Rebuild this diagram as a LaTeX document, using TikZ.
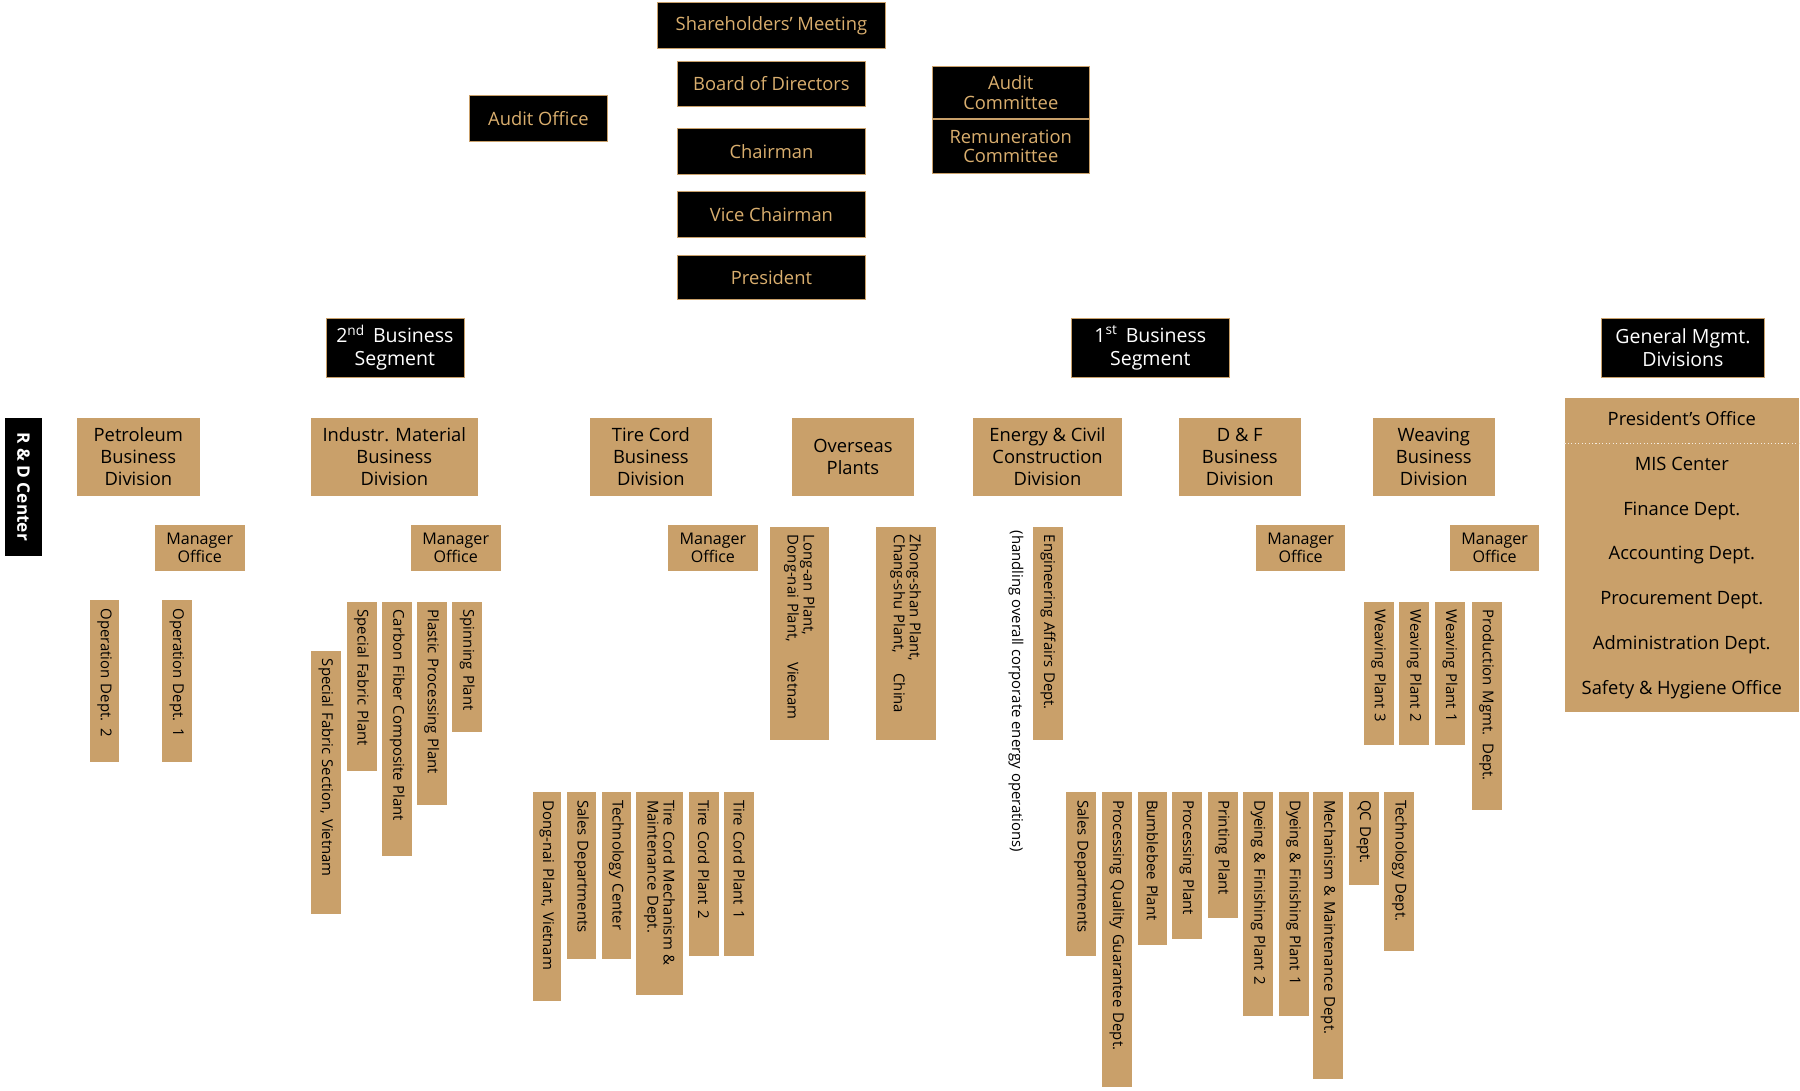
\documentclass[tikz,border=0pt]{standalone}
\usepackage{fontspec}
\setmainfont{Open Sans}
\usetikzlibrary{backgrounds}
\definecolor{tan}{HTML}{C9A06A}
\definecolor{gold}{HTML}{D9AE6E}
\tikzset{
 top/.style={draw=tan,fill=black,text=gold,inner sep=0pt,font=\fontsize{16}{17}\selectfont,align=center},
 seg/.style={draw=tan,fill=black,text=white,inner sep=0pt,font=\fontsize{17}{20}\selectfont,align=center},
 div/.style={fill=tan,text=black,inner sep=0pt,font=\fontsize{16}{19}\selectfont,align=center,minimum width=106pt,minimum height=68pt},
 mgr/.style={fill=tan,text=black,inner sep=0pt,font=\fontsize{14}{16}\selectfont,align=center,minimum width=78pt,minimum height=40pt},
 vert/.style={fill=tan,text=black,rotate=-90,inner xsep=7pt,inner ysep=0pt,font=\fontsize{13}{14}\selectfont,align=left},
 ln/.style={draw=tan,line width=1.5pt}
}
\newcommand\vbx[6]{%
 \pgfmathsetmacro\vlen{#4-#3}\pgfmathsetmacro\vcy{(#3+#4)/2}\pgfmathsetmacro\vtw{#4-#3-14}%
 \node[vert,minimum width=\vlen pt,text width=\vtw pt,minimum height=#6pt] (#1) at (#2,\vcy) {#5};}
\begin{document}
\begin{tikzpicture}[x=1pt,y=-1pt]
\useasboundingbox[fill=white] (0,0) rectangle (1568,950);
% top
\node[top,minimum width=199pt,minimum height=40pt] (sh) at (672,22) {Shareholders' Meeting};
\node[top,minimum width=164pt,minimum height=39pt] (bd) at (672,73) {Board of Directors};
\node[top,minimum width=120pt,minimum height=40pt] (ao) at (469,103) {Audit Office};
\node[top,minimum width=137pt,minimum height=45pt] (ac) at (880.5,80.5) {Audit\\Committee};
\node[top,minimum width=137pt,minimum height=47pt] (rc) at (880.5,127.5) {Remuneration\\Committee};
\node[top,minimum width=164pt,minimum height=40pt] (ch) at (672,132) {Chairman};
\node[top,minimum width=164pt,minimum height=40pt] (vc) at (672,187) {Vice Chairman};
\node[top,minimum width=164pt,minimum height=39pt] (pr) at (672,241.5) {President};
% segments
\node[seg,minimum width=120pt,minimum height=52pt] (s2) at (344,303) {2\textsuperscript{nd}\, Business\\Segment};
\node[seg,minimum width=138pt,minimum height=52pt] (s1) at (1002,303) {1\textsuperscript{st}\, Business\\Segment};
\node[seg,minimum width=142pt,minimum height=52pt] (gm) at (1466,303) {General Mgmt.\\Divisions};
\node[fill=black,text=white,rotate=-90,minimum width=120pt,minimum height=33pt,inner sep=0pt,font=\bfseries\fontsize{15}{17}\selectfont] (rd) at (20.5,424) {R \& D Center};
% divisions
\node[div,minimum width=107pt] (pet) at (120.5,398) {Petroleum\\Business\\Division};
\node[div,minimum width=145pt] (ind) at (343.5,398) {Industr. Material\\Business\\Division};
\node[div] (tc) at (567,398) {Tire Cord\\Business\\Division};
\node[div] (ov) at (743,398) {Overseas\\Plants};
\node[div,minimum width=129pt] (en) at (912.5,398) {Energy \& Civil\\Construction\\Division};
\node[div] (df) at (1080,398) {D \& F\\Business\\Division};
\node[div] (wv) at (1249,398) {Weaving\\Business\\Division};
\node[fill=tan,minimum width=204pt,minimum height=273pt,inner sep=0pt,align=center,font=\fontsize{16}{39}\selectfont] (gbox) at (1465,483.5)
 {President's Office\\MIS Center\\Finance Dept.\\Accounting Dept.\\Procurement Dept.\\Administration Dept.\\Safety \& Hygiene Office};
\draw[white!80!tan,dotted,line width=1pt] (gbox.west |- 0,386) -- (gbox.east |- 0,386);
% manager offices
\node[mgr] (pm) at (174,477) {Manager\\Office};
\node[mgr] (im) at (397,477) {Manager\\Office};
\node[mgr] (tm) at (621,477) {Manager\\Office};
\node[mgr] (dm) at (1133,477) {Manager\\Office};
\node[mgr] (wm) at (1302,477) {Manager\\Office};
% petroleum
\vbx{p2}{91}{523}{664}{Operation Dept. 2}{26}
\vbx{p1}{154}{523}{664}{Operation Dept. 1}{26}
% industrial
\vbx{i1}{284}{567}{796}{Special Fabric Section, Vietnam}{26}
\vbx{i2}{315}{524}{672}{Special Fabric Plant}{26}
\vbx{i3}{346}{524}{746}{Carbon Fiber Composite Plant}{26}
\vbx{i4}{376}{524}{701}{Plastic Processing Plant}{26}
\vbx{i5}{407}{524}{638}{Spinning Plant}{26}
% tire cord
\vbx{t1}{476.5}{690}{872}{Dong-nai Plant, Vietnam}{25}
\vbx{t2}{506.5}{690}{835}{Sales Departments}{25}
\vbx{t3}{537}{690}{835}{Technology Center}{26}
\vbx{t4}{574.5}{690}{867}{Tire Cord Mechanism \&\\Maintenance Dept.}{41}
\vbx{t5}{613}{690}{833}{Tire Cord Plant 2}{26}
\vbx{t6}{644}{690}{833}{Tire Cord Plant 1}{26}
% overseas
\vbx{o1}{696.5}{459}{645}{Long-an Plant,\\Dong-nai Plant,\quad\ Vietnam}{51}
\vbx{o2}{789}{459}{645}{Zhong-shan Plant,\\Chang-shu Plant,\quad\ China}{52}
% energy
\vbx{e1}{913}{459}{645}{Engineering Affairs Dept.}{26}
\node[rotate=-90,anchor=west,inner sep=0pt,font=\fontsize{13}{14}\selectfont] (enote) at (885,462) {(handling overall corporate energy operations)};
% D&F
\vbx{d1}{942}{690}{833}{Sales Departments}{26}
\vbx{d2}{973}{690}{947}{Processing Quality Guarantee Dept.}{26}
\vbx{d3}{1004}{690}{823}{Bumblebee Plant}{26}
\vbx{d4}{1034}{690}{818}{Processing Plant}{26}
\vbx{d5}{1065}{690}{800}{Printing Plant}{26}
\vbx{d6}{1096}{690}{885}{Dyeing \& Finishing Plant 2}{26}
\vbx{d7}{1127}{690}{885}{Dyeing \& Finishing Plant 1}{26}
\vbx{d8}{1157}{690}{940}{Mechanism \& Maintenance Dept.}{26}
\vbx{d9}{1188}{690}{771}{QC Dept.}{26}
\vbx{d10}{1219}{690}{828}{Technology Dept.}{26}
% weaving
\vbx{w3}{1201}{524}{649}{Weaving Plant 3}{26}
\vbx{w2}{1232}{524}{649}{Weaving Plant 2}{26}
\vbx{w1}{1263}{524}{649}{Weaving Plant 1}{26}
\vbx{w4}{1295}{524}{706}{Production Mgmt. Dept.}{26}
\begin{scope}[on background layer]
\draw[ln] (sh) -- (pr);
\draw[ln] (ao.east) -- (ac.south west);
\draw[ln] (rd.west) |- (gm.west);
\draw[ln] (s2.south) -- ++(0,18) coordinate (b2);
\draw[ln] (pet.north) |- (b2) -| (tc.north); \draw[ln] (b2) -- (ind.north);
\draw[ln] (993,329) -- (993,347) coordinate (b1);
\draw[ln] (ov.north) |- (b1) -| (wv.north); \draw[ln] (en.north) -- (en.north |- b1); \draw[ln] (df.north) -- (df.north |- b1);
\draw[ln] (gm.south) -- (gbox.north);
% petroleum
\draw[ln] (pet.south) -- (121,513) coordinate (pb); \draw[ln] (pm.west) -- (pm.west -| pet.south);
\draw[ln] (p2.west) |- (pb) -| (p1.west);
% industrial
\draw[ln] (ind.south) -- (344,514) coordinate (ib); \draw[ln] (im.west) -- (im.west -| ind.south);
\draw[ln] (i1.west) |- (ib) -| (i5.west);
\draw[ln] (i2.west) -- (i2.west |- ib); \draw[ln] (i3.west) -- (i3.west |- ib); \draw[ln] (i4.west) -- (i4.west |- ib);
% tire
\draw[ln] (tc.south) -- (567,680) coordinate (tb); \draw[ln] (tm.west) -- (tm.west -| tc.south);
\draw[ln] (t1.west) |- (tb) -| (t6.west);
% overseas
\draw[ln] (ov.south) -- (743,449) coordinate (obb);
\draw[ln] (o1.west) |- (obb) -| (o2.west);
% energy
\draw[ln] (en.south) -- (e1.west);
% D&F
\draw[ln] (df.south) -- (1080,680) coordinate (db); \draw[ln] (dm.west) -- (dm.west -| df.south);
\draw[ln] (d1.west) |- (db) -| (d10.west);
% weaving
\draw[ln] (wv.south) -- (1249,514) coordinate (wb); \draw[ln] (wm.west) -- (wm.west -| wv.south);
\draw[ln] (w3.west) |- (wb) -| (w4.west);
\end{scope}
\end{tikzpicture}
\end{document}
